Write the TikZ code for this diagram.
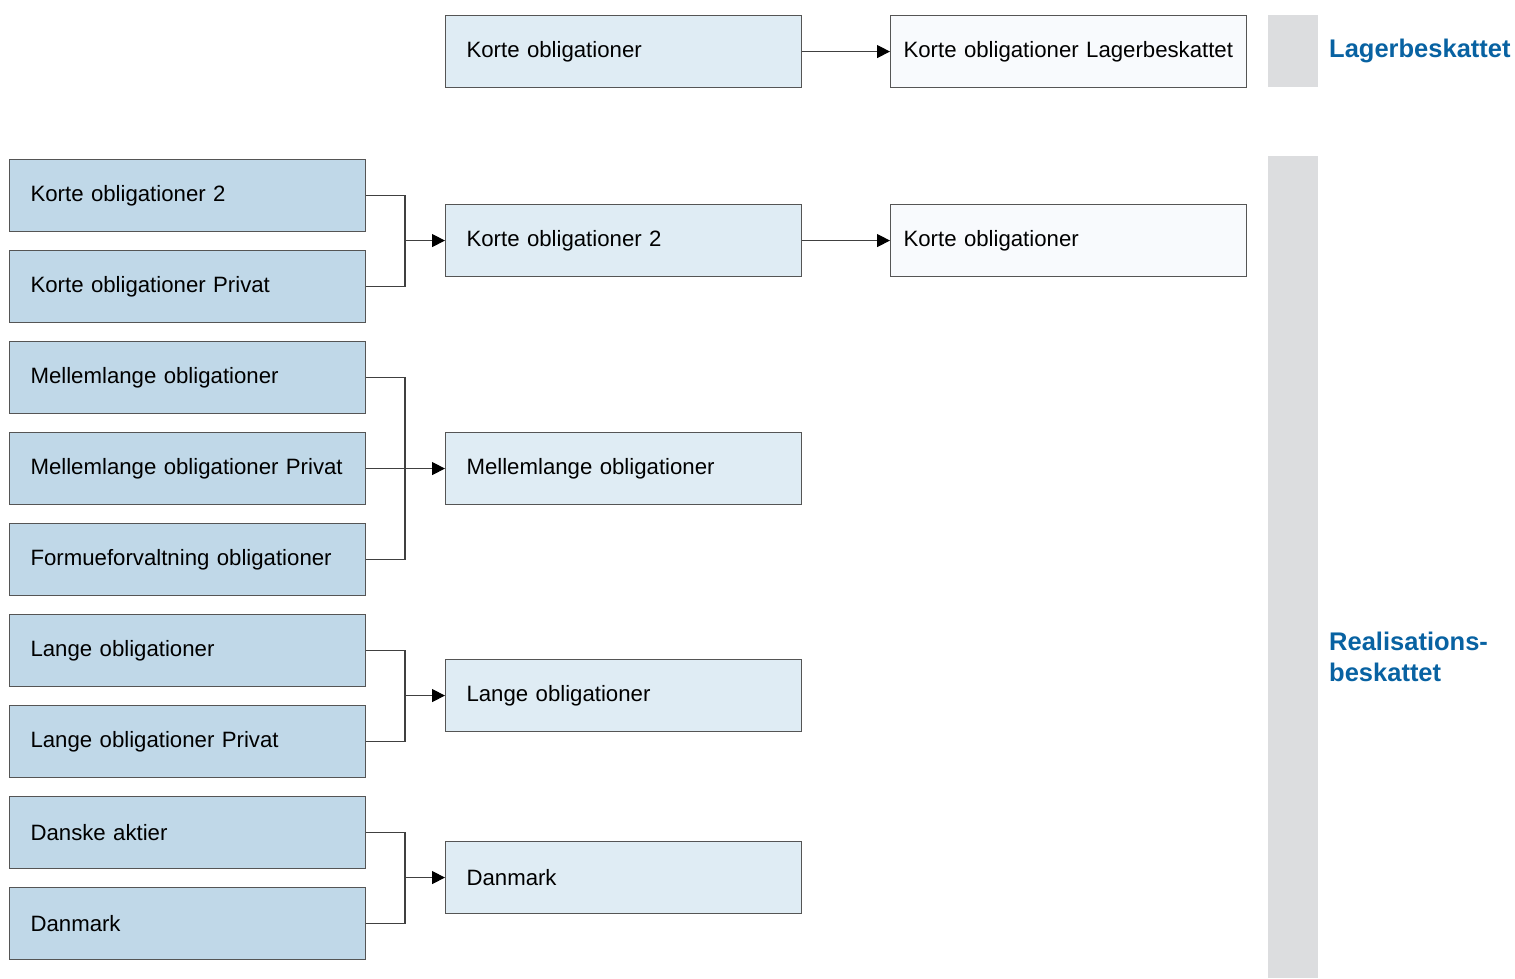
\documentclass[tikz,border=0pt]{standalone}
\usepackage{fontspec}
\setmainfont{Liberation Sans}
\usetikzlibrary{arrows.meta}
\definecolor{leftfill}{HTML}{C0D8E8}
\definecolor{midfill}{HTML}{DFECF4}
\definecolor{rightfill}{HTML}{F8FAFD}
\definecolor{bordergray}{HTML}{555555}
\definecolor{bargray}{HTML}{DCDDDF}
\definecolor{labelblue}{HTML}{0862A2}
\begin{document}
\begin{tikzpicture}[x=1pt,y=-1pt,
  boxbase/.style={draw=bordergray, line width=1.1pt, anchor=north west,
    minimum width=356pt, minimum height=72pt, inner ysep=0pt,
    font=\fontsize{22.2}{26}\selectfont, align=left, text=black},
  leftbox/.style={boxbase, fill=leftfill, inner xsep=21pt, text width=314pt},
  midbox/.style={boxbase, fill=midfill, inner xsep=21pt, text width=314pt},
  rightbox/.style={boxbase, fill=rightfill, inner xsep=13pt, text width=330pt},
  conn/.style={draw=black!75, line width=1.1pt},
  arr/.style={conn, -{Triangle[length=13pt,width=13pt,color=black,fill=black]}},
  bar/.style={fill=bargray, draw=none, anchor=north west, minimum width=50pt, inner sep=0pt},
  lbl/.style={text=labelblue, font=\bfseries\fontsize{25.5}{31}\selectfont, align=left, anchor=west, inner sep=0pt}
]
\useasboundingbox (0,0) rectangle (1515,978);

% gray bars
\node[bar, minimum height=72pt] (bartop) at (1268,15) {};
\node[bar, minimum height=822pt] (barbot) at (1268,156) {};
\node[lbl] (lag) at (1329,51) {Lagerbeskattet};
\node[lbl] (real) at (1329,657) {Realisations-\\beskattet};

% left column
\node[leftbox] (l1) at (9,159) {Korte obligationer 2};
\node[leftbox] (l2) at (9,250) {Korte obligationer Privat};
\node[leftbox] (l3) at (9,341) {Mellemlange obligationer};
\node[leftbox] (l4) at (9,432) {Mellemlange obligationer Privat};
\node[leftbox] (l5) at (9,523) {Formueforvaltning obligationer};
\node[leftbox] (l6) at (9,614) {Lange obligationer};
\node[leftbox] (l7) at (9,705) {Lange obligationer Privat};
\node[leftbox] (l8) at (9,796) {Danske aktier};
\node[leftbox] (l9) at (9,887) {Danmark};

% middle column
\node[midbox] (m0) at (445,15) {Korte obligationer};
\node[midbox] (m1) at (445,204) {Korte obligationer 2};
\node[midbox] (m2) at (445,432) {Mellemlange obligationer};
\node[midbox] (m3) at (445,659) {Lange obligationer};
\node[midbox] (m4) at (445,841) {Danmark};

% right column
\node[rightbox] (r0) at (890,15) {Korte obligationer Lagerbeskattet};
\node[rightbox] (r1) at (890,204) {Korte obligationer};

% junction x
\coordinate (jx) at (405,0);

% group 1
\draw[conn] (l1.east) -- (l1.east -| jx) -- (l2.east -| jx) -- (l2.east);
\draw[arr] (m1.west -| jx) -- (m1.west);
% group 2
\draw[conn] (l3.east) -- (l3.east -| jx) -- (l5.east -| jx) -- (l5.east);
\draw[conn] (l4.east) -- (l4.east -| jx);
\draw[arr] (m2.west -| jx) -- (m2.west);
% group 3
\draw[conn] (l6.east) -- (l6.east -| jx) -- (l7.east -| jx) -- (l7.east);
\draw[arr] (m3.west -| jx) -- (m3.west);
% group 4
\draw[conn] (l8.east) -- (l8.east -| jx) -- (l9.east -| jx) -- (l9.east);
\draw[arr] (m4.west -| jx) -- (m4.west);

% middle to right
\draw[arr] (m0.east) -- (r0.west);
\draw[arr] (m1.east) -- (r1.west);
\end{tikzpicture}
\end{document}
